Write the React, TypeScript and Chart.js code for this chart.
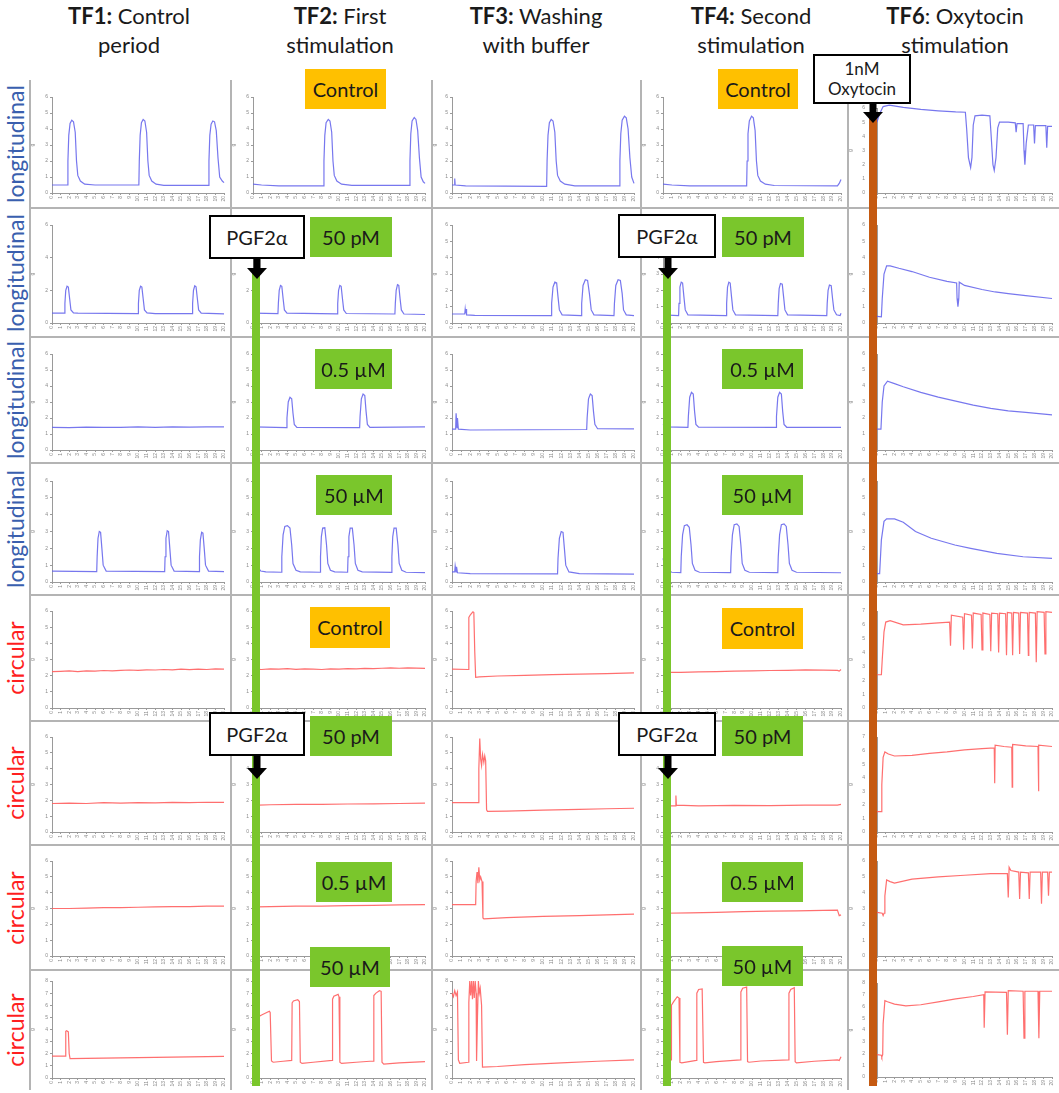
import React, { useEffect, useRef } from 'react';
import { Chart, registerables } from 'chart.js';
Chart.register(...registerables);

type Pt = [number, number];

// ---------- Column headers & row labels ----------
const HEAD_BOLD = ['TF1:', 'TF2:', 'TF3:', 'TF4:', 'TF6'];
const HEAD_REST = [' Control', ' First', ' Washing', ' Second', ': Oxytocin'];
const HEAD_LINE2 = ['period', 'stimulation', 'with buffer', 'stimulation', 'stimulation'];
const ROW_LABELS = ['longitudinal', 'longitudinal', 'longitudinal', 'longitudinal', 'circular', 'circular', 'circular', 'circular'];
const X_TICKS = Array.from({ length: 21 }, (_, i) => i);

// ---------- Row 1: longitudinal, control ----------
const L1_TF1: Pt[] = [[0,0.5],[1.8,0.5],[1.85,2.0],[1.95,3.6],[2.1,4.35],[2.3,4.55],[2.5,4.45],[2.7,3.8],[2.85,2.0],[3.0,1.1],[3.3,0.75],[3.8,0.55],[5,0.5],[10.1,0.5],[10.15,2.0],[10.25,3.6],[10.4,4.4],[10.6,4.6],[10.8,4.5],[11.0,3.8],[11.15,2.0],[11.3,1.1],[11.6,0.75],[12.1,0.55],[13,0.48],[18.2,0.48],[18.25,2.0],[18.35,3.6],[18.5,4.3],[18.7,4.5],[18.9,4.45],[19.1,3.9],[19.3,2.2],[19.5,1.0],[19.8,0.75],[20,0.65]];
const L1_TF2: Pt[] = [[0,0.55],[1,0.5],[3,0.45],[8.2,0.45],[8.25,2.0],[8.35,3.6],[8.5,4.4],[8.75,4.6],[8.95,4.5],[9.15,3.8],[9.3,2.0],[9.45,1.1],[9.75,0.75],[10.3,0.55],[11.5,0.48],[18.2,0.48],[18.25,2.0],[18.35,3.7],[18.5,4.5],[18.75,4.72],[18.95,4.6],[19.15,3.9],[19.35,2.2],[19.55,1.0],[19.8,0.7],[20,0.6]];
const L1_TF3: Pt[] = [[0,0.5],[0.25,0.5],[0.3,0.9],[0.35,0.5],[1.5,0.45],[10.4,0.42],[10.45,2.0],[10.55,3.6],[10.7,4.4],[10.9,4.6],[11.1,4.5],[11.3,3.8],[11.45,2.0],[11.6,1.1],[11.9,0.75],[12.4,0.55],[13.5,0.45],[18.4,0.45],[18.45,2.0],[18.55,3.7],[18.7,4.55],[18.95,4.8],[19.15,4.7],[19.35,4.0],[19.55,2.2],[19.75,1.0],[20,0.6]];
const L1_TF4: Pt[] = [[0,0.55],[1,0.5],[3,0.45],[9.4,0.45],[9.45,2.0],[9.55,3.7],[9.7,4.5],[9.95,4.8],[10.15,4.7],[10.35,3.9],[10.5,2.0],[10.65,1.1],[10.95,0.75],[11.5,0.55],[12.5,0.47],[19.6,0.45],[19.8,0.6],[20,0.85]];
const L1_TF6: Pt[] = [[0,5.0],[0.3,5.6],[0.7,6.1],[1.4,6.2],[3,6.05],[5,5.9],[7,5.8],[9,5.72],[10.1,5.7],[10.25,4.5],[10.45,2.5],[10.7,1.8],[10.85,2.5],[11.0,4.8],[11.2,5.45],[12,5.5],[12.9,5.45],[13.05,4.0],[13.25,2.0],[13.4,1.6],[13.6,2.5],[13.8,4.6],[14.0,5.0],[15.0,5.0],[15.8,4.95],[15.9,4.3],[16.0,4.9],[16.7,4.9],[16.8,3.0],[16.9,2.0],[17.05,3.5],[17.3,4.8],[17.9,4.8],[18.0,3.5],[18.1,4.75],[19.3,4.75],[19.4,3.2],[19.5,4.7],[20,4.7]];

// ---------- Row 2: longitudinal, 50 pM ----------
const L2_TF1: Pt[] = [[0,0.6],[1.45,0.6],[1.5,1.2],[1.6,2.0],[1.75,2.25],[1.9,2.2],[2.05,1.5],[2.2,0.8],[2.5,0.62],[3,0.6],[10.0,0.58],[10.05,1.2],[10.15,2.0],[10.3,2.25],[10.45,2.2],[10.6,1.5],[10.75,0.8],[11.05,0.62],[12,0.58],[16.3,0.57],[16.35,1.2],[16.45,2.0],[16.6,2.28],[16.75,2.22],[16.9,1.5],[17.05,0.8],[17.35,0.6],[20,0.56]];
const L2_TF2: Pt[] = [[0,0.6],[2.9,0.58],[2.95,1.2],[3.05,2.0],[3.2,2.3],[3.35,2.25],[3.5,1.5],[3.65,0.8],[3.95,0.6],[9.8,0.56],[9.85,1.2],[9.95,2.0],[10.1,2.3],[10.25,2.25],[10.4,1.5],[10.55,0.8],[10.85,0.58],[16.5,0.55],[16.55,1.2],[16.65,2.0],[16.8,2.35],[16.95,2.3],[17.1,1.5],[17.25,0.8],[17.55,0.55],[20,0.52]];
const L2_TF3: Pt[] = [[0,0.55],[1.4,0.55],[1.45,0.85],[1.5,0.6],[1.55,0.85],[1.6,0.5],[2.5,0.47],[10.9,0.45],[10.95,1.2],[11.1,2.2],[11.3,2.5],[11.5,2.45],[11.65,1.6],[11.8,0.8],[12.1,0.5],[14.2,0.45],[14.25,1.2],[14.4,2.3],[14.65,2.65],[14.9,2.6],[15.1,1.8],[15.3,0.8],[15.6,0.5],[17.8,0.45],[17.85,1.2],[18.0,2.3],[18.25,2.65],[18.5,2.6],[18.7,1.8],[18.85,0.8],[19.15,0.5],[20,0.45]];
const L2_TF4: Pt[] = [[0,0.5],[1.75,0.45],[1.8,1.2],[1.9,2.2],[2.05,2.5],[2.2,2.45],[2.35,1.6],[2.5,0.8],[2.8,0.5],[7.1,0.45],[7.15,1.2],[7.25,2.2],[7.4,2.5],[7.55,2.45],[7.7,1.6],[7.85,0.8],[8.15,0.5],[12.9,0.45],[12.95,1.2],[13.05,2.1],[13.2,2.42],[13.4,2.38],[13.55,1.6],[13.7,0.8],[14.0,0.5],[18.4,0.45],[18.45,1.2],[18.55,2.0],[18.7,2.32],[18.9,2.28],[19.05,1.5],[19.2,0.8],[19.5,0.5],[19.9,0.45],[20,0.6]];
const L2_TF6: Pt[] = [[0,0.4],[0.5,0.38],[0.6,1.5],[0.8,3.0],[1.1,3.5],[1.5,3.5],[2.5,3.35],[4,3.15],[6,2.8],[8,2.55],[9.1,2.45],[9.15,1.5],[9.25,1.0],[9.35,1.5],[9.4,2.5],[10,2.3],[12,2.05],[13.5,1.9],[15,1.8],[17,1.68],[20,1.5]];

// ---------- Row 3: longitudinal, 0.5 µM ----------
const L3_TF1: Pt[] = [[0,1.42],[2,1.4],[4,1.43],[6,1.41],[8,1.42],[10,1.45],[12,1.42],[14,1.44],[16,1.43],[18,1.45],[20,1.44]];
const L3_TF2: Pt[] = [[0,1.45],[3.9,1.4],[3.95,2.0],[4.1,3.0],[4.3,3.3],[4.5,3.2],[4.65,2.3],[4.8,1.6],[5.1,1.42],[12.4,1.4],[12.45,2.1],[12.6,3.2],[12.8,3.5],[13.0,3.4],[13.15,2.4],[13.3,1.6],[13.6,1.42],[20,1.45]];
const L3_TF3: Pt[] = [[0,1.3],[0.4,1.3],[0.45,2.3],[0.55,1.4],[0.6,2.0],[0.7,1.3],[2,1.25],[14.8,1.28],[14.85,2.0],[15.0,3.2],[15.2,3.5],[15.4,3.4],[15.55,2.4],[15.7,1.6],[16.0,1.33],[20,1.32]];
const L3_TF4: Pt[] = [[0,1.6],[0.3,1.45],[2.8,1.42],[2.85,2.1],[3.0,3.3],[3.2,3.6],[3.4,3.5],[3.55,2.4],[3.7,1.6],[4.0,1.43],[12.7,1.42],[12.75,2.1],[12.9,3.3],[13.1,3.6],[13.3,3.5],[13.45,2.4],[13.6,1.6],[13.9,1.42],[20,1.42]];
const L3_TF6: Pt[] = [[0,1.3],[0.45,1.3],[0.6,3.0],[0.8,4.0],[1.2,4.3],[2,4.15],[3,3.95],[5,3.6],[7,3.3],[9,3.05],[11,2.8],[13,2.6],[15,2.45],[17,2.35],[20,2.2]];

// ---------- Row 4: longitudinal, 50 µM ----------
const L4_TF1: Pt[] = [[0,0.65],[5.2,0.62],[5.25,1.5],[5.35,2.6],[5.5,3.0],[5.65,2.95],[5.8,2.0],[5.95,1.0],[6.3,0.65],[13.1,0.62],[13.15,1.5],[13.25,2.6],[13.4,3.05],[13.55,3.0],[13.7,2.0],[13.85,1.0],[14.2,0.65],[17.1,0.62],[17.15,1.5],[17.25,2.5],[17.4,2.95],[17.55,2.9],[17.7,2.0],[17.85,1.0],[18.2,0.65],[20,0.62]];
const L4_TF2: Pt[] = [[0,3.2],[0.3,3.1],[0.4,1.5],[0.55,0.9],[0.9,0.65],[1.5,0.6],[3.3,0.58],[3.35,1.5],[3.5,2.8],[3.7,3.3],[4.0,3.35],[4.3,3.2],[4.5,2.2],[4.65,1.1],[5.0,0.7],[5.5,0.6],[7.8,0.58],[7.85,1.5],[7.95,2.7],[8.1,3.2],[8.35,3.22],[8.55,2.2],[8.7,1.1],[9.0,0.7],[9.5,0.6],[11.0,0.58],[11.05,1.5],[11.15,2.7],[11.3,3.2],[11.55,3.2],[11.75,2.2],[11.9,1.1],[12.2,0.7],[12.7,0.6],[16.1,0.57],[16.15,1.5],[16.25,2.7],[16.4,3.2],[16.65,3.2],[16.85,2.2],[17.0,1.1],[17.3,0.7],[17.8,0.58],[20,0.56]];
const L4_TF3: Pt[] = [[0,0.6],[0.3,0.6],[0.35,0.95],[0.45,0.6],[0.5,0.9],[0.6,0.55],[2,0.5],[11.6,0.48],[11.65,1.4],[11.8,2.6],[12.0,3.0],[12.2,2.95],[12.35,2.0],[12.5,1.0],[12.85,0.6],[14,0.5],[20,0.47]];
const L4_TF4: Pt[] = [[0,1.4],[0.2,1.0],[0.5,0.7],[1,0.58],[2.0,0.56],[2.05,1.5],[2.2,2.8],[2.4,3.35],[2.7,3.4],[2.95,3.25],[3.15,2.2],[3.3,1.1],[3.6,0.7],[4.1,0.58],[7.6,0.56],[7.65,1.5],[7.8,2.8],[8.0,3.4],[8.3,3.45],[8.55,3.3],[8.75,2.2],[8.9,1.1],[9.2,0.7],[9.7,0.58],[12.9,0.56],[12.95,1.5],[13.1,2.8],[13.3,3.4],[13.6,3.45],[13.85,3.3],[14.05,2.2],[14.2,1.1],[14.5,0.7],[15,0.58],[20,0.55]];
const L4_TF6: Pt[] = [[0,0.5],[0.3,0.5],[0.5,2.5],[0.8,3.6],[1.1,3.75],[2.0,3.75],[3.0,3.55],[4.4,3.0],[6.2,2.6],[8.9,2.2],[10.7,2.0],[13.7,1.7],[16.7,1.5],[20,1.4]];

// ---------- Row 5: circular, control ----------
const C5_TF1: Pt[] = [[0,2.25],[1,2.27],[2,2.3],[3,2.25],[4,2.3],[5,2.28],[6,2.32],[7,2.3],[8,2.33],[9,2.35],[10,2.33],[11,2.36],[12,2.35],[13,2.38],[14,2.36],[15,2.4],[16,2.37],[17,2.4],[18,2.38],[19,2.42],[20,2.4]];
const C5_TF2: Pt[] = [[0,2.4],[1,2.38],[2,2.42],[3,2.4],[4,2.43],[5,2.39],[6,2.42],[7,2.4],[8,2.38],[9,2.42],[10,2.41],[11,2.43],[12,2.42],[13,2.45],[14,2.43],[15,2.46],[16,2.48],[17,2.46],[18,2.48],[19,2.47],[20,2.45]];
const C5_TF3: Pt[] = [[0,2.4],[1.8,2.38],[1.85,5.6],[2.0,5.75],[2.15,5.85],[2.3,5.95],[2.4,5.9],[2.5,3.5],[2.6,1.9],[3,1.92],[5,1.98],[8,2.02],[11,2.07],[14,2.1],[17,2.13],[20,2.17]];
const C5_TF4: Pt[] = [[0,2.2],[2,2.2],[4,2.24],[6,2.25],[8,2.28],[10,2.3],[12,2.32],[14,2.33],[16,2.36],[18,2.34],[19.6,2.33],[19.8,2.28],[20,2.38]];
const C5_TF6: Pt[] = [[0,2.4],[0.5,2.4],[0.6,3.5],[0.8,5.5],[1.0,6.2],[1.5,6.3],[3,6.0],[5,6.05],[7,6.15],[8.3,6.2],[8.4,4.5],[8.5,6.7],[9.8,6.55],[9.9,4.2],[10.0,6.8],[10.8,6.7],[10.9,4.3],[11.0,6.85],[11.9,6.75],[12.0,4.2],[12.1,6.85],[12.9,6.75],[13.0,4.1],[13.1,6.85],[13.8,6.8],[13.9,4.0],[14.0,6.85],[14.7,6.8],[14.8,3.8],[14.9,6.9],[15.4,6.85],[15.5,3.8],[15.6,6.9],[16.2,6.85],[16.3,3.9],[16.4,6.9],[17.2,6.85],[17.3,3.8],[17.35,5.3],[17.4,6.9],[18.1,6.85],[18.2,3.3],[18.3,6.95],[19.1,6.9],[19.2,3.9],[19.3,6.95],[20,6.9]];

// ---------- Row 6: circular, 50 pM ----------
const C6_TF1: Pt[] = [[0,1.8],[2,1.82],[4,1.8],[6,1.85],[8,1.83],[10,1.86],[12,1.84],[14,1.87],[16,1.86],[18,1.88],[20,1.87]];
const C6_TF2: Pt[] = [[0,2.0],[0.6,1.95],[0.7,1.7],[2,1.72],[5,1.75],[8,1.74],[11,1.77],[14,1.78],[17,1.8],[20,1.82]];
const C6_TF3: Pt[] = [[0,1.85],[2.9,1.85],[2.95,4.0],[3.05,5.9],[3.15,4.6],[3.25,4.2],[3.35,4.9],[3.5,4.4],[3.6,4.8],[3.7,4.5],[3.8,1.4],[3.9,1.3],[6,1.32],[10,1.38],[14,1.43],[17,1.47],[20,1.5]];
const C6_TF4: Pt[] = [[0,1.65],[1.4,1.65],[1.45,2.3],[1.5,1.7],[4,1.65],[8,1.68],[12,1.66],[16,1.7],[19.6,1.7],[20,1.75]];
const C6_TF6: Pt[] = [[0,1.5],[0.5,1.5],[0.55,3.5],[0.7,5.5],[0.9,5.9],[1.3,5.75],[2.0,5.6],[4,5.65],[6,5.8],[8,5.9],[10,6.05],[12,6.15],[13.4,6.2],[13.45,3.6],[13.5,6.4],[14.5,6.3],[15.4,6.25],[15.45,3.3],[15.5,6.45],[17.0,6.35],[18.4,6.3],[18.45,3.0],[18.5,6.4],[20,6.3]];

// ---------- Row 7: circular, 0.5 µM ----------
const C7_TF1: Pt[] = [[0,3.0],[2,3.0],[4,3.02],[6,3.05],[8,3.05],[10,3.08],[12,3.1],[14,3.12],[16,3.12],[18,3.15],[20,3.15]];
const C7_TF2: Pt[] = [[0,3.25],[0.4,3.2],[0.5,3.1],[2,3.12],[5,3.15],[8,3.15],[11,3.18],[14,3.2],[17,3.23],[20,3.25]];
const C7_TF3: Pt[] = [[0,3.25],[2.6,3.25],[2.65,4.7],[2.75,5.3],[2.85,4.6],[2.95,5.6],[3.05,4.8],[3.15,5.0],[3.3,4.7],[3.4,2.4],[3.5,2.35],[6,2.42],[10,2.5],[14,2.55],[17,2.6],[20,2.65]];
const C7_TF4: Pt[] = [[0,2.7],[3,2.72],[6,2.75],[9,2.8],[12,2.83],[15,2.85],[18,2.88],[19.6,2.9],[19.8,2.55],[20,2.6]];
const C7_TF6: Pt[] = [[0,2.75],[0.6,2.7],[0.7,2.55],[0.8,2.7],[0.9,3.8],[1.1,4.8],[1.5,4.7],[2.0,4.6],[4,4.85],[7,5.0],[10,5.1],[13,5.2],[14.9,5.2],[15.0,3.7],[15.1,5.6],[15.3,5.4],[16.2,5.3],[16.3,3.6],[16.4,5.3],[17.3,5.25],[17.4,3.6],[17.5,5.3],[18.7,5.3],[18.8,3.3],[18.9,5.3],[19.5,5.3],[19.6,3.8],[19.7,5.3],[20,5.3]];

// ---------- Row 8: circular, 50 µM ----------
const C8_TF1: Pt[] = [[0,1.8],[1.55,1.8],[1.6,3.85],[1.7,3.9],[1.9,3.8],[2.0,2.0],[2.1,1.6],[4,1.62],[8,1.66],[12,1.7],[16,1.74],[20,1.78]];
const C8_TF2: Pt[] = [[0,4.9],[0.5,5.0],[1.0,5.2],[1.9,5.5],[2.0,5.4],[2.15,1.4],[2.35,1.3],[3.5,1.38],[4.5,1.45],[4.55,6.2],[4.7,6.35],[5.2,6.45],[5.4,6.3],[5.5,1.3],[5.7,1.2],[7,1.3],[9.2,1.45],[9.25,6.5],[9.4,6.75],[9.9,6.9],[10.0,6.7],[10.1,1.3],[10.3,1.2],[12,1.3],[14.0,1.4],[14.05,6.8],[14.3,7.0],[14.7,7.2],[14.9,7.15],[15.0,1.3],[15.2,1.15],[17,1.25],[20,1.35]];
const C8_TF3: Pt[] = [[0,7.0],[0.15,6.7],[0.3,7.2],[0.45,6.8],[0.6,7.1],[0.7,1.5],[0.85,1.2],[1.8,1.3],[1.85,6.2],[1.95,8.0],[2.05,6.8],[2.15,8.0],[2.25,6.5],[2.35,8.0],[2.45,6.6],[2.55,8.0],[2.65,7.0],[2.7,1.4],[2.8,5.0],[2.9,8.0],[3.0,7.0],[3.1,7.4],[3.25,6.0],[3.35,0.9],[5,0.95],[8,1.1],[12,1.25],[16,1.38],[20,1.5]];
const C8_TF4: Pt[] = [[0,1.5],[0.9,1.5],[0.95,6.0],[1.2,6.3],[1.6,6.7],[1.8,6.6],[1.9,1.3],[2.1,1.25],[3.75,1.45],[3.8,7.0],[4.0,7.3],[4.4,7.35],[4.55,1.3],[4.7,1.25],[6,1.35],[8.7,1.5],[8.75,7.1],[8.95,7.4],[9.4,7.5],[9.5,1.35],[9.65,1.3],[11,1.4],[14.1,1.5],[14.15,7.0],[14.35,7.3],[14.75,7.45],[14.85,1.35],[15.0,1.25],[17,1.38],[19.6,1.5],[19.8,1.45],[20,1.75]];
const C8_TF6: Pt[] = [[0,1.9],[0.5,1.85],[0.55,1.7],[0.65,1.9],[0.7,4.5],[0.9,6.5],[1.2,6.4],[2,6.2],[3.3,6.05],[5,6.15],[7,6.4],[9,6.65],[11,6.85],[12.2,7.0],[12.25,4.2],[12.35,7.25],[14.8,7.2],[14.9,3.6],[15.0,7.35],[16.7,7.3],[16.8,3.3],[16.9,7.3],[18.4,7.3],[18.5,3.3],[18.6,7.3],[20,7.3]];

const TRACES: Pt[][][] = [
  [L1_TF1, L1_TF2, L1_TF3, L1_TF4, L1_TF6],
  [L2_TF1, L2_TF2, L2_TF3, L2_TF4, L2_TF6],
  [L3_TF1, L3_TF2, L3_TF3, L3_TF4, L3_TF6],
  [L4_TF1, L4_TF2, L4_TF3, L4_TF4, L4_TF6],
  [C5_TF1, C5_TF2, C5_TF3, C5_TF4, C5_TF6],
  [C6_TF1, C6_TF2, C6_TF3, C6_TF4, C6_TF6],
  [C7_TF1, C7_TF2, C7_TF3, C7_TF4, C7_TF6],
  [C8_TF1, C8_TF2, C8_TF3, C8_TF4, C8_TF6],
];
const Y_MAX: number[][] = [
  [6, 6, 6, 6, 6], [6, 6, 6, 6, 6], [6, 6, 6, 6, 6], [6, 6, 6, 6, 6],
  [6, 6, 6, 6, 7], [6, 6, 6, 6, 7], [6, 6, 6, 6, 6], [8, 8, 8, 8, 8],
];
const Y_STEP: number[][] = [
  [1, 1, 1, 1, 1], [2, 2, 1, 1, 1], [1, 1, 1, 1, 1], [1, 1, 1, 1, 1],
  [1, 1, 1, 1, 1], [1, 1, 1, 1, 1], [1, 1, 1, 1, 1], [1, 1, 1, 1, 1],
];

// ---------- Annotation texts ----------
const CONC_LABELS = ['Control', '50 pM', '0.5 µM', '50 µM', 'Control', '50 pM', '0.5 µM', '50 µM'];
const AGONIST = 'PGF2α';
const OXY_LINES = ['1nM', 'Oxytocin'];

// ---------- Layout (positions only) ----------
const COL_L = [30, 231, 432, 641, 848];
const COL_W = [201, 201, 209, 207, 211];
const AXIS_OFF = [22, 22, 20, 22, 29];
const TICK_PAD = [2, 2, 2, 2, 10];
const ROW_T = [80, 208, 337, 463, 595, 721, 845, 970];
const ROW_B = [208, 337, 463, 595, 721, 845, 970, 1090];
const PLOT_T = [97, 225, 354, 481, 611, 737, 861, 981];
const PLOT_B = [193, 323, 450, 582, 708, 832, 956, 1078];
const BLUE = 'rgba(95,95,235,0.85)';
const RED = 'rgba(255,95,95,0.9)';
const GREEN = '#7ac62c';
const ORANGE = '#ffc000';
const BROWN = '#c55a11';
const FONT = 'Lato, "Open Sans", "DejaVu Sans", sans-serif';

type MiniProps = { pts: Pt[]; color: string; left: number; top: number; width: number; height: number; axisOff: number; tickPad: number; padTop: number; xH: number; yMax: number; yStep: number };

function Mini({ pts, color, left, top, width, height, axisOff, tickPad, padTop, xH, yMax, yStep }: MiniProps) {
  const ref = useRef<HTMLCanvasElement>(null);
  useEffect(() => {
    const tickFont = { size: 5, family: 'Liberation Sans, sans-serif' };
    const chart = new Chart(ref.current!, {
      type: 'line',
      data: { datasets: [{ data: pts.map(([x, y]) => ({ x, y })), borderColor: color, borderWidth: 1.2, pointRadius: 0, tension: 0, fill: false, clip: 6 as any }] },
      options: {
        animation: false,
        responsive: false,
        events: [],
        layout: { padding: { top: padTop, right: 1, left: 0, bottom: 0 } },
        plugins: { legend: { display: false }, tooltip: { enabled: false } },
        scales: {
          x: {
            type: 'linear', min: 0, max: 20,
            afterBuildTicks: (s: any) => { s.ticks = X_TICKS.map((v) => ({ value: v })); },
            ticks: { font: tickFont, color: '#8a8a8a', minRotation: 90, maxRotation: 90, autoSkip: false, padding: 1 },
            grid: { drawOnChartArea: false, tickLength: 2, color: '#9a9a9a' },
            border: { color: '#9a9a9a', width: 1 },
            afterFit: (s: any) => { s.height = xH; },
          },
          y: {
            min: 0, max: yMax,
            ticks: { stepSize: yStep, font: tickFont, color: '#8a8a8a', padding: tickPad },
            grid: { drawOnChartArea: false, tickLength: 2, color: '#9a9a9a' },
            border: { color: '#9a9a9a', width: 1 },
            title: { display: true, text: 'g', font: tickFont, color: '#8a8a8a', padding: 0 },
            afterFit: (s: any) => { s.width = axisOff; },
          },
        },
      } as any,
    });
    return () => chart.destroy();
  }, []);
  return <canvas ref={ref} width={width} height={height} style={{ position: 'absolute', left, top, width, height }} />;
}

function Box({ x, y, w, h, bg, border, children, size = 20 }: any) {
  return (
    <div style={{ position: 'absolute', left: x, top: y, width: w, height: h, background: bg, border: border ? '2px solid #000' : 'none', boxSizing: 'border-box', display: 'flex', alignItems: 'center', justifyContent: 'center', flexDirection: 'column', fontFamily: FONT, fontSize: size, color: '#1a1a1a', lineHeight: 1.15, zIndex: 5 }}>
      {children}
    </div>
  );
}

function Arrow({ cx, y0, y1 }: { cx: number; y0: number; y1: number }) {
  const h = y1 - y0;
  const head = 11;
  return (
    <svg style={{ position: 'absolute', left: cx - 10, top: y0, zIndex: 4 }} width={20} height={h}>
      <rect x={6.5} y={0} width={7} height={h - head} fill="#000" />
      <polygon points={`0,${h - head} 20,${h - head} 10,${h}`} fill="#000" />
    </svg>
  );
}

function VBar({ x, w, y0, y1, color }: any) {
  return <div style={{ position: 'absolute', left: x, top: y0, width: w, height: y1 - y0, background: color, zIndex: 3 }} />;
}

export default function App() {
  const cells: any[] = [];
  for (let r = 0; r < 8; r++) {
    for (let c = 0; c < 5; c++) {
      const top = ROW_T[r];
      const height = ROW_B[r] - ROW_T[r];
      let pt = PLOT_T[r] - top;
      if (r === 0 && c === 4) pt = 108 - top;
      cells.push(
        <Mini key={`${r}-${c}`} pts={TRACES[r][c]} color={r < 4 ? BLUE : RED} left={COL_L[c]} top={top} width={COL_W[c]} height={height}
          axisOff={AXIS_OFF[c]} tickPad={TICK_PAD[c]} padTop={pt} xH={ROW_B[r] - PLOT_B[r]} yMax={Y_MAX[r][c]} yStep={Y_STEP[r][c]} />
      );
    }
  }
  const lines: any[] = [];
  COL_L.forEach((x, i) => lines.push(<div key={'v' + i} style={{ position: 'absolute', left: x - 1, top: 80, width: 2, height: 1010, background: '#b4b4b4', zIndex: 1 }} />));
  ROW_T.slice(1).forEach((y, i) => lines.push(<div key={'h' + i} style={{ position: 'absolute', left: 30, top: y - 1, width: 1029, height: 2, background: '#b4b4b4', zIndex: 1 }} />));

  const heads = [129, 340, 536, 751, 955];
  const greenBoxesTF2 = [null, [310, 217, 82, 40], [315, 349, 77, 40], [316, 475, 76, 40], null, [310, 716, 82, 40], [316, 862, 76, 40], [310, 947, 80, 40]];
  const greenBoxesTF4 = [null, [722, 217, 82, 40], [722, 349, 81, 40], [722, 475, 81, 40], null, [722, 716, 81, 40], [722, 862, 81, 40], [722, 946, 81, 40]];
  const orangeBoxes = [[305, 69, 81, 40, 0], [718, 69, 80, 40, 0], [310, 607, 80, 41, 4], [722, 608, 81, 41, 4]];

  return (
    <div style={{ position: 'absolute', left: 0, top: 0, width: 1059, height: 1093, background: '#fff', overflow: 'hidden' }}>
      {heads.map((cx, i) => (
        <div key={'hd' + i} style={{ position: 'absolute', left: cx - 110, top: 1, width: 220, textAlign: 'center', fontFamily: FONT, fontSize: 22, lineHeight: '29px', color: '#1a1a1a' }}>
          <span style={{ fontWeight: 700 }}>{HEAD_BOLD[i]}</span>{HEAD_REST[i]}<br />{HEAD_LINE2[i]}
        </div>
      ))}
      {ROW_LABELS.map((t, r) => {
        const cy = (ROW_T[r] + ROW_B[r]) / 2;
        return (
          <div key={'rl' + r} style={{ position: 'absolute', left: 15 - 70, top: cy - 14, width: 140, height: 28, lineHeight: '28px', textAlign: 'center', transform: 'rotate(-90deg)', fontFamily: FONT, fontSize: 23, color: r < 4 ? '#3a5fae' : '#ff1f1f' }}>{t}</div>
        );
      })}
      {lines}
      {cells}
      <VBar x={252} w={8} y0={268} y1={1086} color={GREEN} />
      <VBar x={663} w={8} y0={268} y1={1086} color={GREEN} />
      <VBar x={869} w={8} y0={115} y1={1086} color={BROWN} />
      <Arrow cx={257} y0={258} y1={279} />
      <Arrow cx={668} y0={257} y1={279} />
      <Arrow cx={257} y0={755} y1={779} />
      <Arrow cx={668} y0={755} y1={779} />
      <Arrow cx={873} y0={103} y1={123} />
      <Box x={209} y={215} w={96} h={44} bg="#fff" border>{AGONIST}</Box>
      <Box x={618} y={214} w={98} h={44} bg="#fff" border>{AGONIST}</Box>
      <Box x={209} y={712} w={96} h={44} bg="#fff" border>{AGONIST}</Box>
      <Box x={618} y={712} w={98} h={44} bg="#fff" border>{AGONIST}</Box>
      <Box x={813} y={54} w={98} h={50} bg="#fff" border size={17}>
        <span>{OXY_LINES[0]}</span><span>{OXY_LINES[1]}</span>
      </Box>
      {orangeBoxes.map(([x, y, w, h, r], i) => (
        <Box key={'ob' + i} x={x} y={y} w={w} h={h} bg={ORANGE}>{CONC_LABELS[r]}</Box>
      ))}
      {greenBoxesTF2.map((b, r) => b && <Box key={'g2' + r} x={b[0]} y={b[1]} w={b[2]} h={b[3]} bg={GREEN}>{CONC_LABELS[r]}</Box>)}
      {greenBoxesTF4.map((b, r) => b && <Box key={'g4' + r} x={b[0]} y={b[1]} w={b[2]} h={b[3]} bg={GREEN}>{CONC_LABELS[r]}</Box>)}
    </div>
  );
}
